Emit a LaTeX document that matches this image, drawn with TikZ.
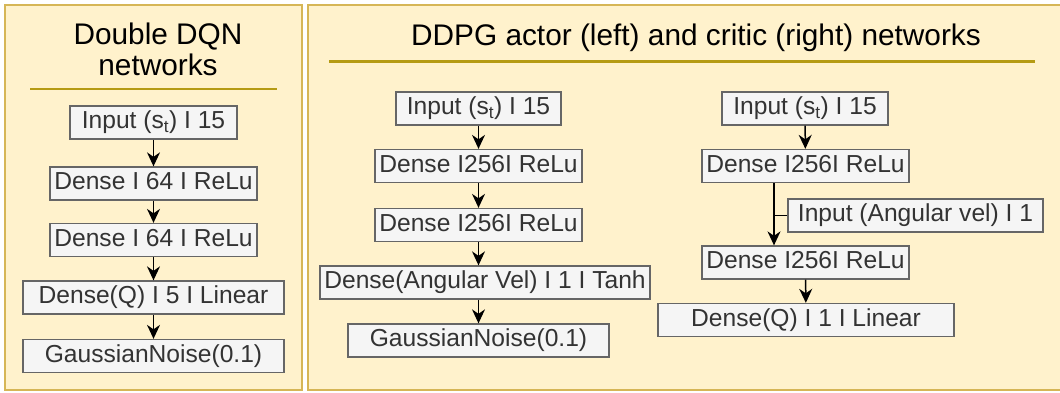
\documentclass[tikz,border=0pt]{standalone}
\usepackage{fontspec}
\setmainfont{Liberation Sans}
\usetikzlibrary{arrows.meta}
\definecolor{panelfill}{HTML}{FFF2CC}
\definecolor{paneldraw}{HTML}{D6B656}
\definecolor{rulecol}{RGB}{181,155,20}
\definecolor{boxfill}{HTML}{F5F5F5}
\definecolor{boxdraw}{HTML}{666666}
\definecolor{boxtext}{HTML}{333333}
\tikzset{
  panel/.style={fill=panelfill, draw=paneldraw, line width=1.5pt},
  layer/.style={draw=boxdraw, fill=boxfill, text=boxtext, line width=1.3pt,
    inner sep=0pt, minimum height=33pt,
    font=\fontsize{24.6}{27}\selectfont, text height=17.8pt, text depth=5pt},
  titletext/.style={font=\fontsize{29.8}{32}\selectfont, text=black, inner sep=0pt},
  flow/.style={line width=1.5pt, -{Stealth[length=14pt,width=13pt,inset=4.5pt]}},
  joinline/.style={line width=1.5pt}
}
\begin{document}
\begin{tikzpicture}[x=1pt,y=-1pt]
\useasboundingbox (0,0) rectangle (1060,392);
% panels
\draw[panel] (5,5) rectangle (302,390);
\draw[panel] (308,5) rectangle (1066,390);
% titles
\node[titletext, anchor=base] (t1a) at (158,44) {Double DQN};
\node[titletext, anchor=base] (t1b) at (158,75) {networks};
\draw[rulecol, line width=2pt] (30,89) -- (277,89);
\node[titletext, anchor=base] (t2) at (696,45) {DDPG actor (left) and critic (right) networks};
\draw[rulecol, line width=3pt] (329,61) -- (1035,61);

% Double DQN
\node[layer, minimum width=167pt] (qin) at (153.5,122.5) {Input (s\textsubscript{t}) I 15};
\node[layer, minimum width=207pt] (qd1) at (153.5,183.5) {Dense I 64 I ReLu};
\node[layer, minimum width=207pt] (qd2) at (153.5,240) {Dense I 64 I ReLu};
\node[layer, minimum width=261pt] (qq) at (153.5,297.5) {Dense(Q) I 5 I Linear};
\node[layer, minimum width=261pt] (qgn) at (153.5,356) {GaussianNoise(0.1)};
\draw[flow] (qin) -- (qd1);
\draw[flow] (qd1) -- (qd2);
\draw[flow] (qd2) -- (qq);
\draw[flow] (qq) -- (qgn);

% Actor
\node[layer, minimum width=165pt] (ain) at (478.5,108.5) {Input (s\textsubscript{t}) I 15};
\node[layer, minimum width=207pt] (ad1) at (478.5,166) {Dense I256I ReLu};
\node[layer, minimum width=207pt] (ad2) at (478.5,225) {Dense I256I ReLu};
\node[layer, minimum width=330pt] (aang) at (485,282.5) {Dense(Angular Vel) I 1 I Tanh};
\node[layer, minimum width=261pt] (agn) at (478.5,340.5) {GaussianNoise(0.1)};
\draw[flow] (ain) -- (ad1);
\draw[flow] (ad1) -- (ad2);
\draw[flow] (ad2.south) -- (ad2.south |- aang.north);
\draw[flow] (aang.south -| agn.north) -- (agn.north);

% Critic
\node[layer, minimum width=166pt] (cin) at (805,108.5) {Input (s\textsubscript{t}) I 15};
\node[layer, minimum width=207pt] (cd1) at (805.5,166) {Dense I256I ReLu};
\node[layer, minimum width=255pt] (cang) at (915.5,215.5) {Input (Angular vel) I 1};
\node[layer, minimum width=207pt] (cd2) at (805.5,262.5) {Dense I256I ReLu};
\node[layer, minimum width=296pt] (cq) at (806,320) {Dense(Q) I 1 I Linear};
\coordinate (cj) at (774,215.5);
\draw[flow] (cd1.south -| cj) -- (cd2.north -| cj);
\draw[joinline] (cang.west) -- (cj);
\draw[flow] (cin) -- (cd1);
\draw[flow] (cd2) -- (cq);
\end{tikzpicture}
\end{document}
